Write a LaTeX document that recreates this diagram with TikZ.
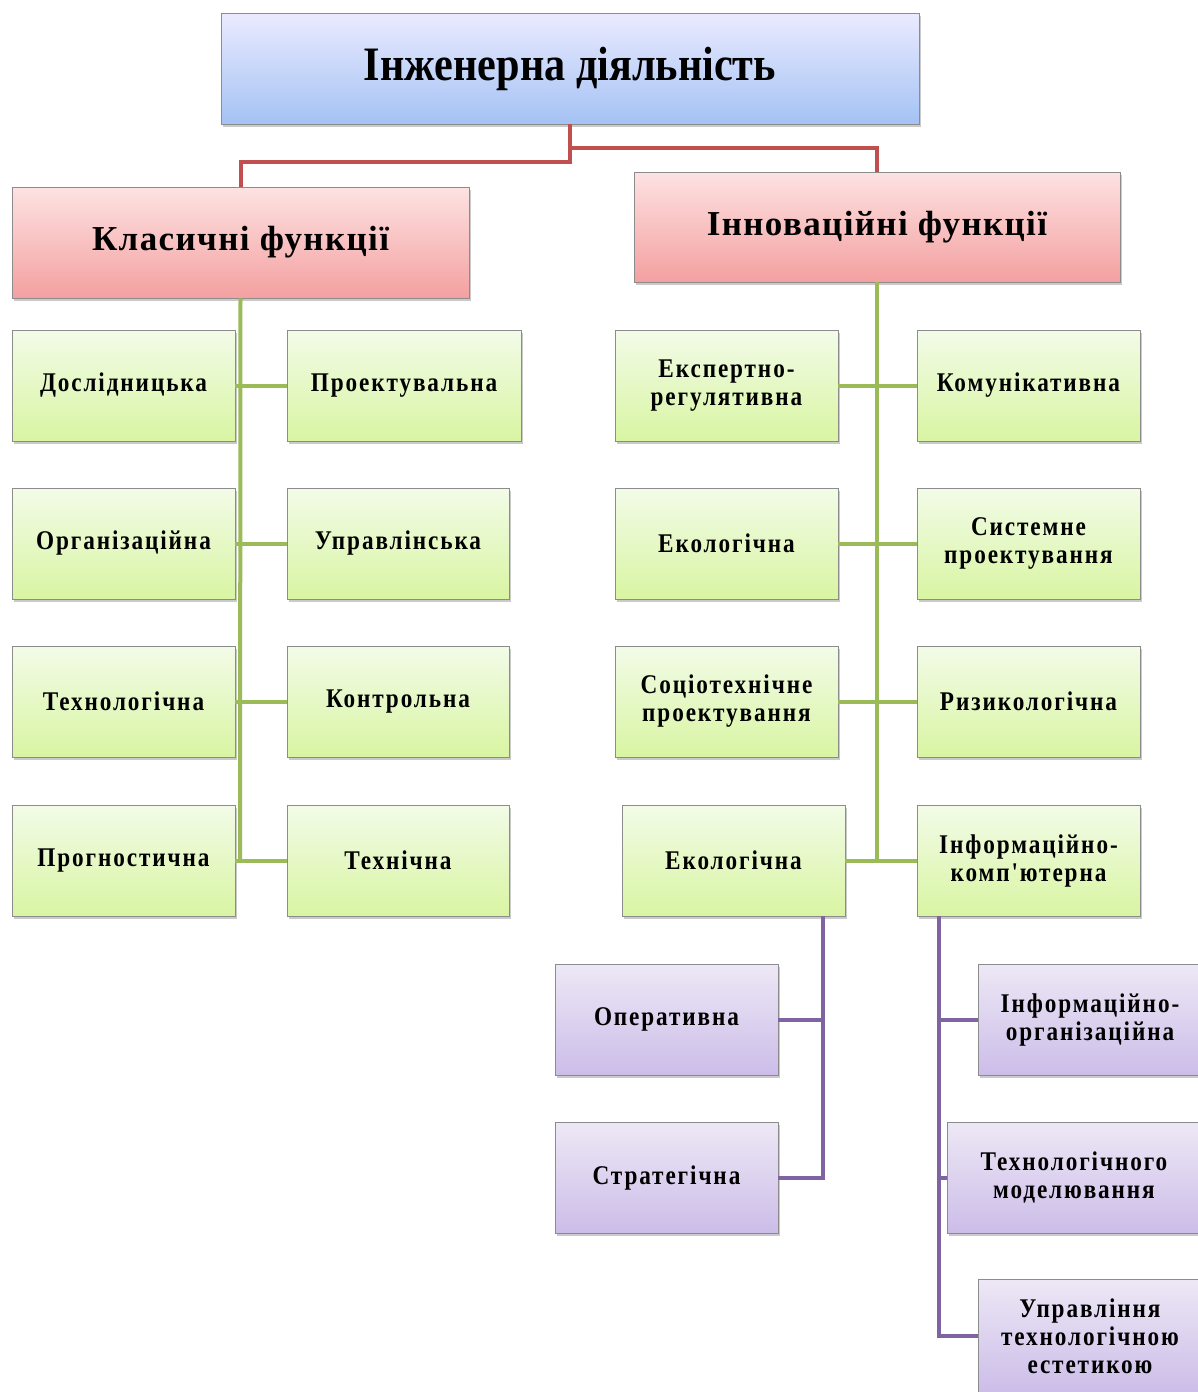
\documentclass[tikz,border=0pt]{standalone}
\usepackage{fontspec}
\setmainfont{Liberation Serif}[Ligatures=TeXOff]
\newfontfamily\smallfont{Liberation Serif}[Ligatures=TeXOff, FakeStretch=0.86, LetterSpace=7]
\newfontfamily\topfont{Liberation Serif}[Ligatures=TeXOff, FakeStretch=0.88]
\usetikzlibrary{shadows,calc}
\definecolor{lred}{HTML}{C0504D}
\definecolor{lgreen}{HTML}{9BBB59}
\definecolor{lpurple}{HTML}{8064A2}
\tikzset{
  basebox/.style={draw=black!45, line width=0.6pt, inner sep=2pt, align=center,
    font=\smallfont\bfseries\fontsize{27}{28}\selectfont,
    drop shadow={shadow xshift=2pt, shadow yshift=-3pt, opacity=0.35, fill=black!60},
    minimum height=111pt, minimum width=223pt},
  bluebox/.style={basebox, top color=blue!8!white, bottom color={rgb,255:red,164;green,194;blue,244},
    minimum width=698pt, font=\topfont\bfseries\fontsize{48}{56}\selectfont},
  redbox/.style={basebox, top color={rgb,255:red,253;green,226;blue,226}, bottom color={rgb,255:red,244;green,160;blue,160},
    font=\bfseries\fontsize{35}{40}\selectfont\addfontfeatures{LetterSpace=4}},
  greenbox/.style={basebox, top color={rgb,255:red,243;green,251;blue,232}, bottom color={rgb,255:red,216;green,245;blue,162}},
  purplebox/.style={basebox, top color={rgb,255:red,237;green,232;blue,246}, bottom color={rgb,255:red,204;green,189;blue,232}},
  redline/.style={draw=lred, line width=4pt},
  greenline/.style={draw=lgreen, line width=4pt},
  purpleline/.style={draw=lpurple, line width=4pt},
}
\begin{document}
\begin{tikzpicture}[x=1pt,y=-1pt]
\useasboundingbox (0,0) rectangle (1197,1392);
\coordinate (g1) at (240,860);
\coordinate (g2) at (877,860);
\coordinate (p1) at (823,916);
\coordinate (p3) at (939,916);

% boxes
\node[bluebox] (top) at (570,68.5) {Інженерна діяльність};
\node[redbox, minimum width=457pt] (klas) at (240.5,242.5) {Класичні функції};
\node[redbox, minimum width=486pt, minimum height=110pt] (inn) at (877,227) {Інноваційні функції};

\draw[redline] (top.south) -- (570,162) -| (klas.north);
\draw[redline] (570,148) -| (inn.north);
\draw[greenline] (klas.south) -- (g1);
\draw[greenline] (inn.south) -- (g2);

\node[greenbox] (dos) at (123.5,385.5) {Дослідницька};
\node[greenbox, minimum width=234pt] (pro) at (404,385.5) {Проектувальна};
\node[greenbox] (org) at (123.5,543.5) {Організаційна};
\node[greenbox, minimum width=222pt] (upr) at (398,543.5) {Управлінська};
\node[greenbox] (teh) at (123.5,701.5) {Технологічна};
\node[greenbox, minimum width=222pt] (kon) at (398,701.5) {Контрольна};
\node[greenbox] (prg) at (123.5,860.5) {Прогностична};
\node[greenbox, minimum width=222pt] (tex) at (398,860.5) {Технічна};

\node[greenbox] (eks) at (726.5,385.5) {Експертно-\\регулятивна};
\node[greenbox] (kom) at (1028.5,385.5) {Комунікативна};
\node[greenbox] (eko) at (726.5,543.5) {Екологічна};
\node[greenbox] (sys) at (1028.5,543.5) {Системне\\проектування};
\node[greenbox] (soc) at (726.5,701.5) {Соціотехнічне\\проектування};
\node[greenbox] (riz) at (1028.5,701.5) {Ризикологічна};
\node[greenbox] (eko2) at (733.5,860.5) {Екологічна};
\node[greenbox] (ik) at (1028.5,860.5) {Інформаційно-\\комп'ютерна};

\draw[greenline] (dos.east) -- (pro.west);
\draw[greenline] (org.east) -- (upr.west);
\draw[greenline] (teh.east) -- (kon.west);
\draw[greenline] (prg.east) -- (tex.west);
\draw[greenline] (eks.east) -- (kom.west);
\draw[greenline] (eko.east) -- (sys.west);
\draw[greenline] (soc.east) -- (riz.west);
\draw[greenline] (eko2.east) -- (ik.west);

\node[purplebox] (op) at (666.5,1019.5) {Оперативна};
\node[purplebox] (st) at (666.5,1177.5) {Стратегічна};
\node[purplebox, minimum width=224pt] (io) at (1090,1019.5) {Інформаційно-\\організаційна};
\node[purplebox, minimum width=254pt] (tm) at (1074,1177.5) {Технологічного\\моделювання};
\node[purplebox, minimum width=224pt, minimum height=114pt] (ute) at (1090,1336) {Управління\\технологічною\\естетикою};

\draw[purpleline] (p1) |- (st.east);
\draw[purpleline] (op.east) -- (op.east -| p1);
\draw[purpleline] (p3) |- (ute.west);
\draw[purpleline] (io.west -| p3) -- (io.west);
\draw[purpleline] (tm.west -| p3) -- (tm.west);
\end{tikzpicture}
\end{document}
